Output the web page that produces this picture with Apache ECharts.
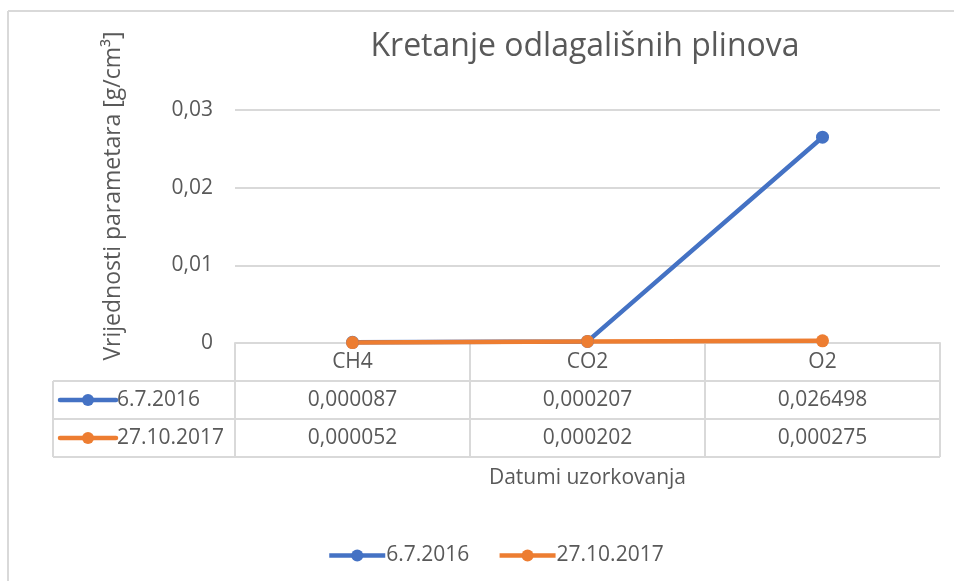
<!DOCTYPE html>
<html>
<head>
<meta charset="utf-8">
<script src="https://cdn.jsdelivr.net/npm/echarts@6/dist/echarts.min.js"></script>
<style>
  html, body { margin: 0; padding: 0; background: #fff; }
  #chart { width: 954px; height: 581px; }
</style>
</head>
<body>
<div id="chart"></div>
<script>
const categories = ["CH4", "CO2", "O2"]
const seriesNames = ["6.7.2016", "27.10.2017"]
const values2016 = [0.000087, 0.000207, 0.026498]
const values2017 = [0.000052, 0.000202, 0.000275]
const yTicks = [0, 0.01, 0.02, 0.03]

const colors = ["#4472C4", "#ED7D31"]
const textColor = "#595959"
const lineColor = "#d9d9d9"
const font = "'Open Sans', sans-serif"

// layout
const gridLeft = 235
const gridRight = 940
const gridTop = 110
const gridBottom = 343
const rowH = 38
const tableLeft = 53

const fmt = v => v.toFixed(6).replace(".", ",")
const allValues = [values2016, values2017]

const chart = echarts.init(document.getElementById("chart"))

// table borders + left column (legend keys)
const graphics = []
const hLine = (x1, x2, y) => graphics.push({
  type: "line", shape: { x1, y1: y, x2, y2: y },
  style: { stroke: lineColor, lineWidth: 2 }, silent: true,
})
const vLine = (x, y1, y2) => graphics.push({
  type: "line", shape: { x1: x, y1, x2: x, y2 },
  style: { stroke: lineColor, lineWidth: 2 }, silent: true,
})
const bandW = (gridRight - gridLeft) / categories.length
hLine(tableLeft, gridRight, gridBottom + rowH)
hLine(tableLeft, gridRight, gridBottom + rowH * 2)
hLine(tableLeft, gridRight, gridBottom + rowH * 3)
vLine(tableLeft, gridBottom + rowH, gridBottom + rowH * 3)
for (let i = 0; i <= categories.length; i++) {
  vLine(gridLeft + bandW * i, gridBottom, gridBottom + rowH * 3)
}
seriesNames.forEach((name, i) => {
  const cy = gridBottom + rowH * (i + 1) + rowH / 2
  graphics.push({
    type: "line", shape: { x1: 60, y1: cy, x2: 116, y2: cy },
    style: { stroke: colors[i], lineWidth: 4.5, lineCap: "round" }, silent: true,
  })
  graphics.push({
    type: "circle", shape: { cx: 88, cy, r: 6 },
    style: { fill: colors[i] }, silent: true,
  })
  graphics.push({
    type: "text", x: 117, y: cy,
    style: { text: name, fill: textColor, font: "21px " + font, verticalAlign: "middle" },
    silent: true,
  })
})
// outer frame
hLine(8, 954, 11)
vLine(8, 11, 581)
// y axis title
graphics.push({
  type: "text", x: 113, y: 196, rotation: Math.PI / 2,
  style: {
    text: "Vrijednosti parametara [g/cm³]", fill: textColor, font: "23px " + font,
    align: "center", verticalAlign: "middle",
  },
  silent: true,
})
// x axis title
graphics.push({
  type: "text", x: (gridLeft + gridRight) / 2, y: 478,
  style: {
    text: "Datumi uzorkovanja", fill: textColor, font: "21px " + font,
    align: "center", verticalAlign: "middle",
  },
  silent: true,
})

const option = {
  animation: false,
  textStyle: { fontFamily: font, color: textColor },
  title: {
    text: "Kretanje odlagališnih plinova",
    left: 580,
    top: 26,
    textAlign: "center",
    textStyle: { fontSize: 32, fontWeight: "normal", color: textColor, fontFamily: font },
  },
  legend: {
    data: seriesNames,
    left: 322,
    top: 540,
    itemWidth: 56,
    itemHeight: 15,
    itemGap: 28,
    lineStyle: { width: 4.5 },
    textStyle: { fontSize: 21, color: textColor, padding: [0, 0, 0, -4] },
  },
  grid: {
    left: gridLeft,
    right: 954 - gridRight,
    top: gridTop,
    bottom: 581 - gridBottom,
  },
  xAxis: {
    type: "category",
    data: categories,
    boundaryGap: true,
    axisLine: { lineStyle: { color: lineColor, width: 2 } },
    axisTick: { show: false },
    axisLabel: {
      margin: 0,
      interval: 0,
      formatter: (value, idx) =>
        [`{c|${value}}`, ...allValues.map(vals => `{c|${fmt(vals[idx])}}`)].join("\n"),
      rich: {
        c: { fontSize: 21, lineHeight: rowH, color: textColor, fontFamily: font },
      },
    },
  },
  yAxis: {
    type: "value",
    min: yTicks[0],
    max: yTicks[yTicks.length - 1],
    interval: yTicks[1] - yTicks[0],
    axisLine: { show: false },
    axisTick: { show: false },
    axisLabel: {
      margin: 22,
      fontSize: 21,
      color: textColor,
      formatter: v => String(+v.toFixed(2)).replace(".", ","),
    },
    splitLine: { lineStyle: { color: lineColor, width: 2 } },
  },
  series: [
    {
      name: seriesNames[0],
      type: "line",
      data: values2016,
      symbol: "circle",
      symbolSize: 13,
      lineStyle: { width: 4.5, color: colors[0] },
      itemStyle: { color: colors[0] },
    },
    {
      name: seriesNames[1],
      type: "line",
      data: values2017,
      symbol: "circle",
      symbolSize: 13,
      lineStyle: { width: 4.5, color: colors[1] },
      itemStyle: { color: colors[1] },
    },
  ],
  graphic: graphics,
}

chart.setOption(option)
window.addEventListener("resize", () => chart.resize())
</script>
</body>
</html>
